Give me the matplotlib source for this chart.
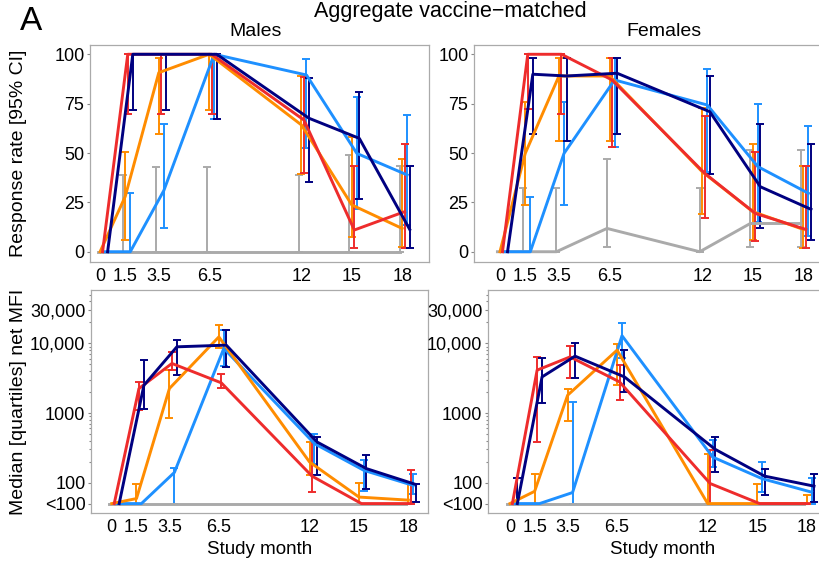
import numpy as np
import matplotlib.pyplot as plt
from matplotlib.ticker import FixedLocator, NullFormatter

plt.rcParams['font.family'] = ['Liberation Sans', 'DejaVu Sans']

months = [0, 1.5, 3.5, 6.5, 12, 15, 18]
month_labels = ['0', '1.5', '3.5', '6.5', '12', '15', '18']
groups = ['grey', 'blue', 'orange', 'red', 'navy']

# response rate (%) with 95% CI, males
males_rate = {
    'grey':   [0, 0, 0, 0, 0, 0, 0],
    'orange': [0, 28, 90.7, 100, 64.2, 23.7, 11.8],
    'red':    [0, 100, 100, 100, 66.7, 11, 20.3],
    'blue':   [0, 0, 31, 100, 89.5, 49.8, 38.9],
    'navy':   [0, 100, 100, 100, 67.6, 57.4, 11.3],
}
males_rate_lo = {
    'grey':   [0, 0, 0, 0, 0, 0, 0],
    'orange': [0, 5.9, 59.5, 72, 39.4, 7.6, 2.5],
    'red':    [0, 70, 70, 70, 39.7, 1.7, 1.7],
    'blue':   [0, 0, 11.8, 67, 52.4, 21.5, 13.5],
    'navy':   [0, 72, 72, 67, 35.5, 26.5, 1.7],
}
males_rate_hi = {
    'grey':   [0, 38.9, 43.1, 43.1, 38.9, 49, 43.4],
    'orange': [0, 50.7, 98, 100, 89, 58.3, 46.8],
    'red':    [0, 100, 100, 100, 88.7, 43.4, 54.6],
    'blue':   [0, 29.6, 64.5, 100, 97.5, 78.5, 69.3],
    'navy':   [0, 100, 100, 100, 87.8, 81, 43.4],
}

# response rate (%) with 95% CI, females
females_rate = {
    'grey':   [0, 0, 0, 11.8, 0, 14.3, 14.3],
    'orange': [0, 49.8, 89, 89, 40.5, 20.3, 11.3],
    'red':    [0, 100, 100, 87, 39.7, 19.4, 11.3],
    'blue':   [0, 0, 49.8, 87, 74.3, 43.1, 29.6],
    'navy':   [0, 89.9, 89, 90.4, 70.9, 32.9, 21.5],
}
females_rate_lo = {
    'grey':   [0, 0, 0, 2.2, 0, 2.5, 2.5],
    'orange': [0, 23.7, 56.3, 56.3, 19.1, 5.9, 1.7],
    'red':    [0, 72.1, 70, 52.9, 16.9, 5.6, 1.7],
    'blue':   [0, 0, 23.7, 52.9, 40.6, 15.2, 8],
    'navy':   [0, 59.4, 56.3, 59.5, 39.4, 11.8, 5.9],
}
females_rate_hi = {
    'grey':   [0, 32.1, 32.1, 47, 32.1, 51.5, 51.5],
    'orange': [0, 76, 98, 98, 72.6, 54.6, 43.4],
    'red':    [0, 100, 100, 98, 68.7, 50.7, 43.4],
    'blue':   [0, 27.5, 76, 98, 92.4, 74.8, 63.7],
    'navy':   [0, 98, 98, 98, 89, 64.5, 54.6],
}

# median net MFI with quartiles (50 = below 100), males
males_mfi = {
    'grey':   [50, 50, 50, 50, 50, 50, 50],
    'orange': [50, 59, 2250, 12400, 198, 62, 56],
    'red':    [50, 2250, 5150, 2710, 124, 50, 50],
    'blue':   [50, 50, 140, 8470, 363, 150, 91],
    'navy':   [50, 2500, 8930, 9440, 384, 159, 94],
}
males_mfi_lo = {
    'grey':   [50, 50, 50, 50, 50, 50, 50],
    'orange': [50, 50, 835, 8500, 127, 50, 50],
    'red':    [50, 1100, 4200, 2300, 73, 50, 50],
    'blue':   [50, 50, 50, 4700, 187, 77, 69],
    'navy':   [50, 1160, 3500, 4600, 127, 82, 53],
}
males_mfi_hi = {
    'grey':   [50, 50, 50, 50, 50, 50, 50],
    'orange': [50, 96, 4130, 18400, 384, 98, 98],
    'red':    [50, 2800, 7500, 3580, 453, 50, 150],
    'blue':   [50, 50, 160, 15500, 507, 209, 135],
    'navy':   [50, 5750, 11200, 15500, 453, 246, 94],
}

# median net MFI with quartiles, females
females_mfi = {
    'grey':   [50, 50, 50, 50, 50, 50, 50],
    'orange': [50, 75, 1800, 8000, 50, 50, 50],
    'red':    [50, 4130, 6400, 2800, 97, 50, 50],
    'blue':   [50, 50, 72, 12900, 233, 114, 73],
    'navy':   [50, 3300, 6560, 3300, 301, 124, 89],
}
females_mfi_lo = {
    'grey':   [50, 50, 50, 50, 50, 50, 50],
    'orange': [50, 50, 760, 2500, 50, 50, 50],
    'red':    [50, 384, 3200, 1520, 50, 50, 50],
    'blue':   [50, 50, 50, 6100, 167, 73, 50],
    'navy':   [50, 1370, 3140, 2000, 142, 67, 53],
}
females_mfi_hi = {
    'grey':   [50, 50, 50, 50, 50, 50, 50],
    'orange': [50, 135, 2180, 9660, 261, 94, 66],
    'red':    [50, 6410, 9130, 4900, 292, 50, 50],
    'blue':   [50, 50, 1445, 19400, 406, 198, 116],
    'navy':   [116, 6200, 10300, 8100, 445, 155, 135],
}

colors = {'grey': '#AAAAAA', 'orange': '#FF8C00', 'red': '#EE2C2C',
          'blue': '#1E90FF', 'navy': '#000080'}
dodge = {'grey': -0.15, 'orange': 0.0, 'red': 0.15, 'blue': 0.3, 'navy': 0.45}

mfi_ticks = [50, 100, 1000, 10000, 30000]
mfi_tick_labels = ['<100', '100', '1000', '10,000', '30,000']
mfi_minor = [200, 300, 400, 500, 600, 700, 800, 900,
             2000, 3000, 4000, 5000, 6000, 7000, 8000, 9000, 20000, 40000, 50000]

W, H = 820, 569
fig = plt.figure(figsize=(W / 100, H / 100), dpi=100)


def box(x0, y0, x1, y1):
    return [x0 / W, 1 - y1 / H, (x1 - x0) / W, (y1 - y0) / H]


def draw(ax, med, lo, hi):
    for g in groups:
        x = np.array(months) + dodge[g]
        m = np.array(med[g], float)
        l = np.array(lo[g], float)
        h = np.array(hi[g], float)
        keep = h > l
        ax.errorbar(x[keep], m[keep], yerr=[m[keep] - l[keep], h[keep] - m[keep]],
                    fmt='none', ecolor=colors[g], elinewidth=1.4, capsize=2.6,
                    capthick=1.4, zorder=2)
        ax.plot(x, m, color=colors[g], lw=2.1, zorder=3, solid_joinstyle='round')


def style(ax, xlim):
    ax.set_xlim(*xlim)
    ax.set_xticks(months)
    ax.set_xticklabels(month_labels)
    ax.tick_params(axis='x', length=0, pad=4, labelsize=13)
    ax.tick_params(axis='y', which='major', length=2.5, width=0.8, color='#888888',
                   pad=1.5, labelsize=13)
    for s in ax.spines.values():
        s.set_color('#AAAAAA')
        s.set_linewidth(0.9)


panels = [
    (box(90, 45, 429, 262), (-0.6, 19.6), males_rate, males_rate_lo, males_rate_hi, False),
    (box(474, 45, 830, 262), (-1.54, 19.58), females_rate, females_rate_lo, females_rate_hi, False),
    (box(91, 290, 428, 513), (-1.26, 19.19), males_mfi, males_mfi_lo, males_mfi_hi, True),
    (box(488, 290, 830, 513), (-1.33, 19.42), females_mfi, females_mfi_lo, females_mfi_hi, True),
]

for rect, xlim, med, lo, hi, logy in panels:
    ax = fig.add_axes(rect)
    draw(ax, med, lo, hi)
    style(ax, xlim)
    if logy:
        ax.set_yscale('log')
        ax.set_ylim(36.6, 58500)
        ax.yaxis.set_major_locator(FixedLocator(mfi_ticks))
        ax.set_yticklabels(mfi_tick_labels)
        ax.yaxis.set_minor_locator(FixedLocator(mfi_minor))
        ax.yaxis.set_minor_formatter(NullFormatter())
        ax.tick_params(axis='y', which='minor', length=1.2, width=0.8, color='#888888')
    else:
        ax.set_ylim(-5.2, 104.7)
        ax.set_yticks([0, 25, 50, 75, 100])

fig.text(20 / W, 1 - 22 / H, 'A', fontsize=24, va='center', ha='left')
fig.text(450 / W, 1 - 12 / H, 'Aggregate vaccine\u2212matched', fontsize=15.5,
         ha='center', va='center')
fig.text(256 / W, 1 - 32 / H, 'Males', fontsize=14, ha='center', va='center')
fig.text(664 / W, 1 - 32 / H, 'Females', fontsize=14, ha='center', va='center')
fig.text(19 / W, 1 - 153 / H, 'Response rate [95% CI]', fontsize=14,
         rotation=90, ha='center', va='center')
fig.text(19 / W, 1 - 402 / H, 'Median [quartiles] net MFI', fontsize=14,
         rotation=90, ha='center', va='center')
fig.text(260 / W, 1 - 550 / H, 'Study month', fontsize=13.5, ha='center', va='center')
fig.text(663 / W, 1 - 550 / H, 'Study month', fontsize=13.5, ha='center', va='center')

fig.savefig('out.png', dpi=100)
